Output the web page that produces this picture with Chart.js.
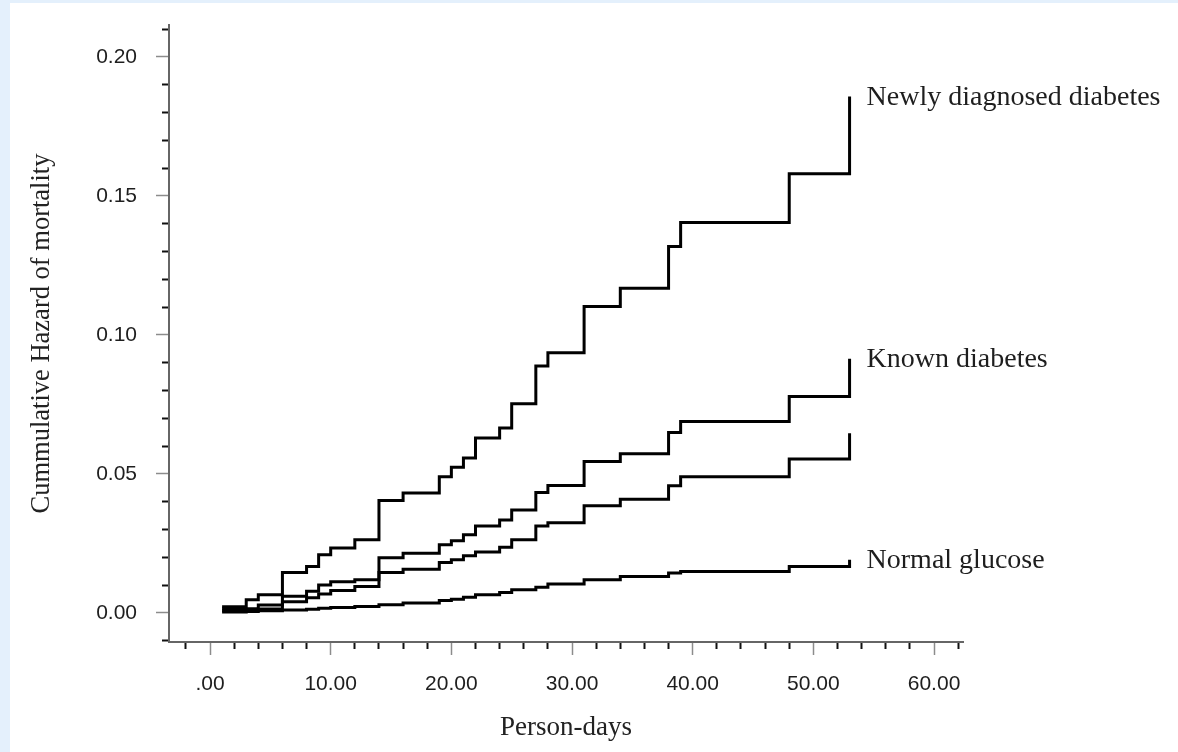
<!DOCTYPE html>
<html>
<head>
<meta charset="utf-8">
<script src="https://cdn.jsdelivr.net/npm/chart.js@4.4.1/dist/chart.umd.min.js"></script>
<style>
  html, body { margin: 0; padding: 0; background: #e4f0fc; }
  #wrap { position: relative; width: 1178px; height: 752px; overflow: hidden; }
  #paper { position: absolute; left: 10px; top: 3px; right: 0; bottom: 0; background: #ffffff; }
  #c { position: absolute; left: 0; top: 0; }
</style>
</head>
<body>
<div id="wrap"><div id="paper"></div><canvas id="c" width="1178" height="752"></canvas></div>
<script>
// ---- data ----
const days = [1, 3, 4, 6, 8, 9, 10, 12, 14, 16, 19, 20, 21, 22, 24, 25, 27, 28, 31, 34, 38, 39, 48, 53];
const newlyDiagnosed = [0.0022, 0.0047, 0.0065, 0.0145, 0.0167, 0.0209, 0.0233, 0.0263, 0.0404, 0.0431, 0.0490, 0.0524, 0.0557, 0.0629, 0.0665, 0.0752, 0.0888, 0.0936, 0.1102, 0.1168, 0.1318, 0.1404, 0.1580, 0.1858];
const knownDiabetes  = [0.0015, 0.0015, 0.0028, 0.0060, 0.0078, 0.0100, 0.0112, 0.0119, 0.0198, 0.0214, 0.0245, 0.0259, 0.0281, 0.0312, 0.0334, 0.0370, 0.0433, 0.0458, 0.0544, 0.0572, 0.0649, 0.0688, 0.0778, 0.0914];
const unlabeledGroup = [0.0008, 0.0008, 0.0014, 0.0040, 0.0054, 0.0068, 0.0080, 0.0095, 0.0145, 0.0157, 0.0181, 0.0191, 0.0205, 0.0219, 0.0236, 0.0263, 0.0312, 0.0324, 0.0385, 0.0409, 0.0457, 0.0490, 0.0553, 0.0646];
const normalGlucose  = [0.0003, 0.0005, 0.0007, 0.0010, 0.0013, 0.0016, 0.0019, 0.0023, 0.0029, 0.0035, 0.0044, 0.0049, 0.0056, 0.0065, 0.0073, 0.0083, 0.0092, 0.0104, 0.0119, 0.0131, 0.0143, 0.0149, 0.0167, 0.0191];
const seriesNames = ['Newly diagnosed diabetes', 'Known diabetes', '', 'Normal glucose'];

const xTickValues = [0, 10, 20, 30, 40, 50, 60];
const xTickLabels = ['.00', '10.00', '20.00', '30.00', '40.00', '50.00', '60.00'];
const yTickValues = [0, 0.05, 0.10, 0.15, 0.20];
const yTickLabels = ['0.00', '0.05', '0.10', '0.15', '0.20'];
const xMinorTicks = [];
for (let v = -2; v <= 62; v += 2) xMinorTicks.push(v);
const yMinorTicks = [];
for (let i = -1; i <= 21; i++) yMinorTicks.push(i / 100);

const xAxisTitle = 'Person-days';
const yAxisTitle = 'Cummulative Hazard of mortality';

// ---- chart ----
const X_MIN = -3.4, X_MAX = 62.4, Y_MIN = -0.0105, Y_MAX = 0.2115;
const findIdx = (arr, v) => arr.findIndex(t => Math.abs(t - v) < 1e-9);

const sansTick = '"Liberation Sans", Arial, sans-serif';
const serif = '"Liberation Serif", "Times New Roman", serif';

function toPoints(vals) { return days.map((d, i) => ({ x: d, y: vals[i] })); }
const allSeries = [newlyDiagnosed, knownDiabetes, unlabeledGroup, normalGlucose];

const datasets = allSeries.map((vals, i) => ({
  label: seriesNames[i],
  data: toPoints(vals),
  xAxisID: 'x', yAxisID: 'y',
  stepped: 'before',
  borderColor: '#000000',
  borderWidth: 3,
  pointRadius: 0,
  pointHoverRadius: 0,
  fill: false,
  borderJoinStyle: 'miter',
  borderCapStyle: 'butt'
}));

const curveLabelPlugin = {
  id: 'curveLabels',
  afterDatasetsDraw(chart) {
    const { ctx } = chart;
    const xs = chart.scales.x, ys = chart.scales.y;
    ctx.save();
    ctx.font = '28px ' + serif;
    ctx.fillStyle = '#1e1e1e';
    ctx.textBaseline = 'middle';
    ctx.textAlign = 'left';
    chart.data.datasets.forEach(ds => {
      if (!ds.label) return;
      const last = ds.data[ds.data.length - 1];
      ctx.fillText(ds.label, xs.getPixelForValue(last.x) + 17, ys.getPixelForValue(last.y) + 1);
    });
    ctx.restore();
  }
};

const noPad = s => { s.paddingTop = 0; s.paddingBottom = 0; s.paddingLeft = 0; s.paddingRight = 0; };

new Chart(document.getElementById('c'), {
  type: 'line',
  data: { datasets },
  plugins: [curveLabelPlugin],
  options: {
    responsive: false,
    animation: false,
    events: [],
    layout: { padding: { left: 0, top: 25, right: 215, bottom: 0 } },
    plugins: { legend: { display: false }, tooltip: { enabled: false }, title: { display: false } },
    scales: {
      x: {
        type: 'linear', axis: 'x', position: 'bottom', min: X_MIN, max: X_MAX,
        afterBuildTicks: s => { s.ticks = xMinorTicks.map(v => ({ value: v })); },
        afterFit: s => { s.height = 110; noPad(s); },
        grid: {
          drawOnChartArea: false, drawTicks: true, tickLength: 7, tickWidth: 2,
          tickColor: c => (c.tick && findIdx(xTickValues, c.tick.value) >= 0) ? 'rgba(0,0,0,0)' : '#111111'
        },
        border: { display: true, color: '#666666', width: 2 },
        ticks: {
          autoSkip: false, maxRotation: 0, minRotation: 0, padding: 23, color: '#1e1e1e',
          font: { family: sansTick, size: 21 },
          callback: v => { const i = findIdx(xTickValues, v); return i >= 0 ? xTickLabels[i] : ''; }
        },
        title: {
          display: true, text: xAxisTitle, color: '#222222',
          font: { family: serif, size: 27 }, padding: { top: 0, bottom: 8 }
        }
      },
      y: {
        type: 'linear', axis: 'y', position: 'left', min: Y_MIN, max: Y_MAX,
        afterBuildTicks: s => { s.ticks = yMinorTicks.map(v => ({ value: v })); },
        afterFit: s => { s.width = 169; noPad(s); },
        grid: {
          drawOnChartArea: false, drawTicks: true, tickLength: 7, tickWidth: 2,
          tickColor: c => (c.tick && findIdx(yTickValues, c.tick.value) >= 0) ? 'rgba(0,0,0,0)' : '#111111'
        },
        border: { display: true, color: '#666666', width: 2 },
        ticks: {
          autoSkip: false, padding: 25, color: '#1e1e1e',
          font: { family: sansTick, size: 21 },
          callback: v => { const i = findIdx(yTickValues, v); return i >= 0 ? yTickLabels[i] : ''; }
        },
        title: {
          display: true, text: yAxisTitle, color: '#222222',
          font: { family: serif, size: 26.5 }, padding: { top: 26, bottom: 0 }
        }
      },
      xMajor: {
        type: 'linear', axis: 'x', position: { y: Y_MIN }, min: X_MIN, max: X_MAX,
        afterBuildTicks: s => { s.ticks = xTickValues.map(v => ({ value: v })); },
        afterFit: noPad,
        grid: { drawOnChartArea: false, drawTicks: true, tickLength: 13, tickWidth: 1.5, tickColor: '#8c8c8c' },
        border: { display: false },
        ticks: { display: false }
      },
      yMajor: {
        type: 'linear', axis: 'y', position: { x: X_MIN }, min: Y_MIN, max: Y_MAX,
        afterBuildTicks: s => { s.ticks = yTickValues.map(v => ({ value: v })); },
        afterFit: noPad,
        grid: { drawOnChartArea: false, drawTicks: true, tickLength: 13, tickWidth: 1.5, tickColor: '#8c8c8c' },
        border: { display: false },
        ticks: { display: false }
      }
    }
  }
});
</script>
</body>
</html>
